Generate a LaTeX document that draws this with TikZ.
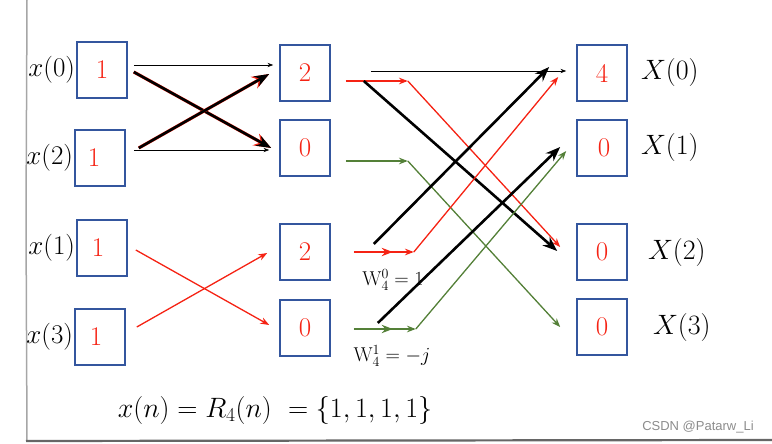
\RequirePackage{fix-cm}
\documentclass[tikz,border=0pt]{standalone}
\usepackage{fontspec}
\newfontfamily\markfont{Liberation Sans}
\usetikzlibrary{arrows.meta,positioning,calc}
\definecolor{boxblue}{RGB}{52,86,158}
\definecolor{numred}{RGB}{245,35,20}
\definecolor{twgreen}{RGB}{84,128,56}
\tikzset{
  valbox/.style={draw=boxblue, line width=1.6pt, minimum width=50pt, minimum height=56pt, inner sep=0pt, text=numred, font=\fontsize{27}{32}\selectfont},
  inlabel/.style={inner sep=0pt, font=\fontsize{27}{32}\selectfont},
  outlabel/.style={inner sep=0pt, font=\fontsize{28}{33}\selectfont},
  thinarrow/.style={->, line width=0.6pt},
  thickarrow/.style={->, line width=2.6pt},
  redarrow/.style={->, draw=numred, fill=numred, line width=1.3pt},
  greenarrow/.style={->, draw=twgreen, fill=twgreen, line width=1.3pt},
  twiddle/.style={text=black, font=\fontsize{20}{24}\selectfont}
}

\begin{document}
\begin{tikzpicture}[>=Stealth, x=1pt, y=-1pt]
  \useasboundingbox (0,0) rectangle (772,444);
  \draw[gray!70, line width=1.5pt] (27,0) -- (26,220) -- (27,441);
  \draw[gray!80!black, line width=2.2pt] (26,441) -- (772,440);

  \node[valbox] (in0) at (102,70) {1};
  \node[valbox] (in2) at (100,158) {\hspace*{-12pt}1};
  \node[valbox] (in1) at (102,248) {\hspace*{-8pt}1};
  \node[valbox] (in3) at (100,337) {\hspace*{-8pt}1};
  \node[valbox] (m0) at (305,73) {2};
  \node[valbox] (m1) at (305,148) {0};
  \node[valbox] (m2) at (305,252) {2};
  \node[valbox] (m3) at (305,328) {0};
  \node[valbox] (out0) at (602,73) {4};
  \node[valbox] (out1) at (602,148) {\hspace*{4pt}0};
  \node[valbox] (out2) at (602,252) {0};
  \node[valbox] (out3) at (602,327) {0};

  \node[inlabel, left=1pt of in0] {$x(0)$};
  \node[inlabel, left=1pt of in2] {$x(2)$};
  \node[inlabel, left=1pt of in1] {$x(1)$};
  \node[inlabel, left=1pt of in3] {$x(3)$};
  \node[outlabel, right=13pt of out0] {$X(0)$};
  \node[outlabel, right=13pt of out1] {$X(1)$};
  \node[outlabel, right=20pt of out2] {$X(2)$};
  \node[outlabel, right=25pt of out3] {$X(3)$};

  \draw[thinarrow] ($(in0.east)+(6,-5)$) -- ($(m0.west)+(-6,-8)$);
  \draw[thinarrow] ($(in2.east)+(8,-8)$) -- ($(m1.west)+(-10,2)$);
  \draw[redarrow, line width=3.2pt, shift={(0,1)}] ($(in0.east)+(6,2)$) -- ($(m1.west)+(-8,0)$);
  \draw[thickarrow] ($(in0.east)+(6,2)$) -- ($(m1.west)+(-8,0)$);
  \draw[redarrow, line width=3.2pt, shift={(0,1)}] ($(in2.east)+(13,-10)$) -- ($(m0.west)+(-10,1)$);
  \draw[thickarrow] ($(in2.east)+(13,-10)$) -- ($(m0.west)+(-10,1)$);
  \draw[redarrow] ($(in1.east)+(8,2)$) -- ($(m3.west)+(-10,-3)$);
  \draw[redarrow] ($(in3.east)+(11,-10)$) -- ($(m2.west)+(-12,1)$);

  \draw[thinarrow] ($(m0.east)+(40,-2)$) -- ($(out0.west)+(-10,-2)$);
  \draw[redarrow] ($(m0.east)+(15,8)$) -- ++(62,0) coordinate (r0);
  \draw[redarrow] (r0) -- ($(out2.west)+(-16,-5)$);
  \draw[thickarrow] ($(m0.east)+(33,8)$) -- ($(out2.west)+(-19,-1)$);
  \draw[greenarrow] ($(m1.east)+(15,13)$) -- ++(62,0) coordinate (g1);
  \draw[greenarrow] (g1) -- ($(out3.west)+(-16,0)$);
  \draw[thickarrow] ($(m2.east)+(43,-8)$) -- ($(out0.west)+(-27,-6)$);
  \draw[redarrow, line width=1.8pt] ($(m2.east)+(23,0)$) -- ++(39,0);
  \draw[redarrow] ($(m2.east)+(23,0)$) -- ++(60,0) coordinate (r2);
  \draw[redarrow] (r2) -- ($(out0.west)+(-18,4)$);
  \draw[thickarrow] ($(m3.east)+(47,-5)$) -- ($(out1.west)+(-16,-1)$);
  \draw[greenarrow, line width=1.8pt] ($(m3.east)+(23,1)$) -- ++(39,0);
  \draw[greenarrow] ($(m3.east)+(23,1)$) -- ++(62,0) coordinate (g3);
  \draw[greenarrow] (g3) -- ($(out1.west)+(-10,3)$);

  \node[twiddle] (w0) at (393,280) {$\mathrm{W}_4^0=1$};
  \node[twiddle] (w1) at (392,356) {$\mathrm{W}_4^1=-j$};

  \node[font=\fontsize{28}{33}\selectfont] (formula) at (275,410) {$x(n)=R_4(n)\ =\{1,1,1,1\}$};
  \node[text=black!45, font=\markfont\fontsize{13}{15}\selectfont] (mark) at (698,427) {CSDN @Patarw\_Li};
\end{tikzpicture}
\end{document}
